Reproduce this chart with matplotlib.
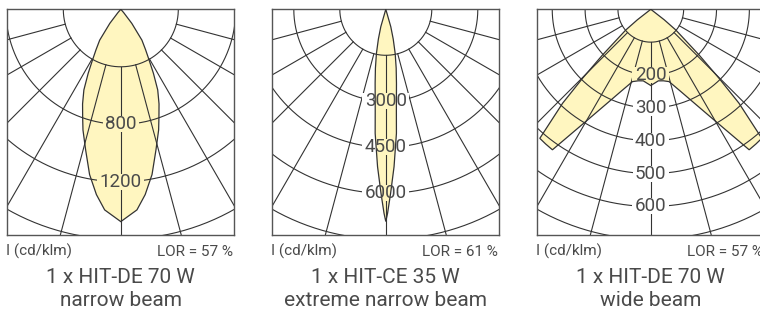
import numpy as np
import matplotlib
matplotlib.use("Agg")
import matplotlib.pyplot as plt
from matplotlib.path import Path
from matplotlib.patches import Polygon

# ---------------- data ----------------
titles = ["1 x HIT-DE 70 W", "1 x HIT-CE 35 W", "1 x HIT-DE 70 W"]
subtitles = ["narrow beam", "extreme narrow beam", "wide beam"]
lor_texts = ["LOR = 57 %", "LOR = 61 %", "LOR = 57 %"]
unit_text = "I (cd/klm)"

ring_step = [400, 1500, 100]
ring_count = [4, 5, 7]
ring_labels = [[800, 1200], [3000, 4500, 6000], [200, 300, 400, 500, 600]]

# luminous intensity curves (angle in degrees from nadir, cd/klm), symmetric
ang_narrow = [0, 4.6, 7.5, 10.7, 14, 17.4, 19.5, 22, 24.6, 27, 29, 31.5, 34.4, 38, 41, 42, 90]
int_narrow = [1477, 1400, 1300, 1170, 1010, 880, 795, 710, 617, 500, 410, 330, 260, 124, 30, 0, 0]

ang_xnarrow = [0, 0.5, 1.5, 3, 4.9, 6, 8.2, 10, 12, 14, 16, 18, 90]
int_xnarrow = [6920, 6650, 6000, 5140, 4060, 3300, 2440, 1950, 1470, 1000, 590, 0, 0]

ang_wide = [0, 6, 10, 14.2, 20, 24.3, 28.5, 35, 38, 40.7, 43.2, 44.7, 46.6, 50.4, 52, 55, 90]
int_wide = [232, 219, 221, 227, 266, 308, 366, 522, 520, 518, 392, 295, 202, 99, 52, 0, 0]

curves = [(ang_narrow, int_narrow), (ang_xnarrow, int_xnarrow), (ang_wide, int_wide)]

# ---------------- layout ----------------
FW, FH = 760, 309
fig = plt.figure(figsize=(FW / 100, FH / 100), dpi=100)
fig.patch.set_facecolor("white")

FONT = ["Roboto", "DejaVu Sans"]
TXT = "#4a4a4a"
WEIGHT = "normal"
GRID = "#333333"
FILL = "#FFF6C0"

box_left = [7.3, 272.3, 537.3]
box_top = 9.3
box_w, box_h = 227.0, 226.0
half_w = 113.5
ring_px = 230.0


def fx(x):
    return x / FW


def fy(y):
    return 1 - y / FH


axes_info = []
for i in range(3):
    L = box_left[i]
    ax = fig.add_axes([fx(L), fy(box_top + box_h), box_w / FW, box_h / FH])
    rmax = ring_step[i] * ring_count[i]
    u = rmax / ring_px  # data units per pixel
    ax.set_xlim(-half_w * u, (box_w - half_w) * u)
    ax.set_ylim(-box_h * u, 0)
    ax.set_xticks([])
    ax.set_yticks([])
    for s in ax.spines.values():
        s.set_color("#555555")
        s.set_linewidth(1.0)

    # fill
    a, v = curves[i]
    a = np.radians(np.array(a, dtype=float))
    v = np.array(v, dtype=float)
    xr = v * np.sin(a)
    yr = -v * np.cos(a)
    xs = np.concatenate([-xr[::-1], xr[1:]])
    ys = np.concatenate([yr[::-1], yr[1:]])
    pts = np.column_stack([xs, ys])
    ax.add_patch(Polygon(pts, closed=True, facecolor=FILL, edgecolor="none", zorder=1))
    ax.add_patch(Polygon(pts, closed=True, facecolor="none", edgecolor=GRID,
                         linewidth=0.9, zorder=3, joinstyle="miter"))

    # grid
    grid_lines = []
    th = np.radians(np.linspace(-90, 90, 361))
    for k in range(1, ring_count[i] + 2):
        r = ring_step[i] * k
        ln, = ax.plot(r * np.sin(th), -r * np.cos(th), color=GRID, lw=0.8, zorder=2)
        grid_lines.append(ln)
    r0 = ring_step[i]
    r1 = rmax * 2
    for d in range(-75, 76, 15):
        t = np.radians(d)
        ln, = ax.plot([r0 * np.sin(t), r1 * np.sin(t)], [-r0 * np.cos(t), -r1 * np.cos(t)],
                      color=GRID, lw=0.8, zorder=2)
        grid_lines.append(ln)

    labels = []
    for val in ring_labels[i]:
        t = ax.text(0, -val, str(val), ha="center", va="center", fontsize=13.5,
                    color=TXT, family=FONT, fontweight=WEIGHT, zorder=4)
        labels.append(t)
    axes_info.append((ax, grid_lines, labels, u))

    cx = L + half_w
    fig.text(fx(L - 1), fy(255.7), unit_text, ha="left", va="baseline", fontsize=11,
             color=TXT, family=FONT, fontweight=WEIGHT)
    fig.text(fx(L + box_w - 1), fy(255.7), lor_texts[i], ha="right", va="baseline", fontsize=11,
             color=TXT, family=FONT, fontweight=WEIGHT)
    fig.text(fx(cx), fy(283.0), titles[i], ha="center", va="baseline", fontsize=15,
             color=TXT, family=FONT, fontweight=WEIGHT)
    fig.text(fx(cx), fy(306.0), subtitles[i], ha="center", va="baseline", fontsize=15,
             color=TXT, family=FONT, fontweight=WEIGHT)

# cut gaps in the grid around the ring labels
fig.canvas.draw()
renderer = fig.canvas.get_renderer()
for ax, grid_lines, labels, u in axes_info:
    x0, x1 = ax.get_xlim()
    big = (x1 - x0) * 5
    verts = [(-big, -big), (big, -big), (big, big), (-big, big), (-big, -big)]
    codes = [Path.MOVETO, Path.LINETO, Path.LINETO, Path.LINETO, Path.CLOSEPOLY]
    inv = ax.transData.inverted()
    for t in labels:
        bb = t.get_window_extent(renderer)
        cxp = (bb.x0 + bb.x1) / 2
        cyp = (bb.y0 + bb.y1) / 2
        hw = bb.width / 2 + 2.5
        hh = 8.0
        (a0, b0) = inv.transform((cxp - hw, cyp - hh))
        (a1, b1) = inv.transform((cxp + hw, cyp + hh))
        verts += [(a0, b0), (a0, b1), (a1, b1), (a1, b0), (a0, b0)]
        codes += [Path.MOVETO, Path.LINETO, Path.LINETO, Path.LINETO, Path.CLOSEPOLY]
    clip = Path(verts, codes)
    for ln in grid_lines:
        ln.set_clip_path(clip, ax.transData)

fig.savefig("out.png", dpi=100, facecolor="white")
